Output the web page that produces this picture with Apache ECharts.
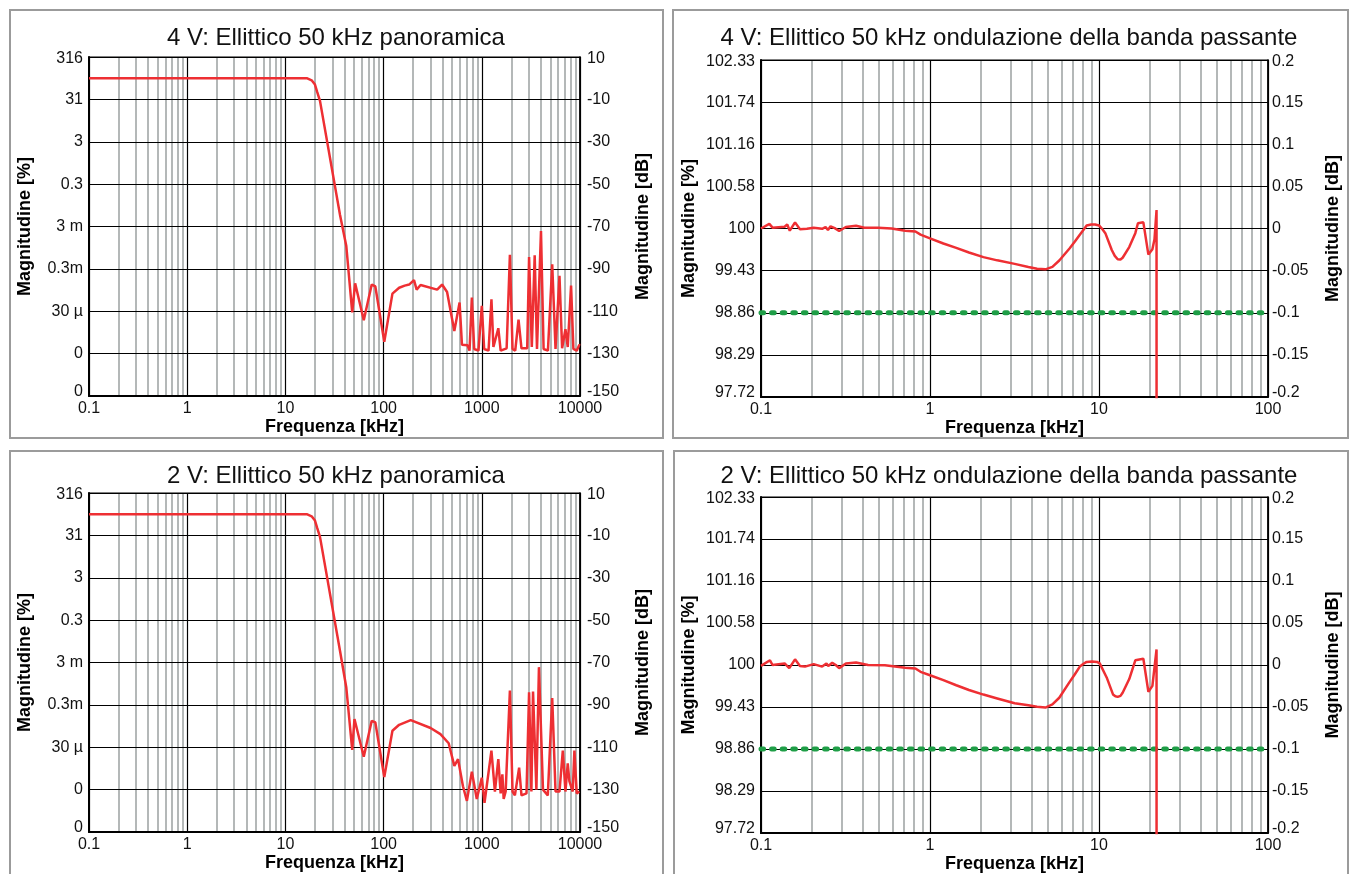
<!DOCTYPE html>
<html>
<head>
<meta charset="utf-8">
<script src="https://cdn.jsdelivr.net/npm/echarts@6/dist/echarts.min.js"></script>
<style>
  html, body { margin: 0; padding: 0; background: #fff; }
  #chart { width: 1352px; height: 874px; }
</style>
</head>
<body>
<div id="chart"></div>
<script>
// ---------------- data ----------------
const panelTitles = [
  '4 V: Ellittico 50 kHz panoramica',
  '4 V: Ellittico 50 kHz ondulazione della banda passante',
  '2 V: Ellittico 50 kHz panoramica',
  '2 V: Ellittico 50 kHz ondulazione della banda passante'
];
const freqAxisName = 'Frequenza [kHz]';
const pctAxisName = 'Magnitudine [%]';
const dbAxisName = 'Magnitudine [dB]';

// decade labels of the frequency axis, 0.1 kHz ... 10000 kHz
const decadeLabels = ['0.1', '1', '10', '100', '1000', '10000'];

// overview panels: dB scale from -150 to +10 in 20 dB steps (bottom to top)
const overviewDbLabels = ['-150', '-130', '-110', '-90', '-70', '-50', '-30', '-10', '10'];
const overviewPctLabels = ['0', '0', '30 µ', '0.3m', '3 m', '0.3', '3', '31', '316'];

// passband ripple panels: -0.2 ... +0.2 dB in 0.05 dB steps (bottom to top)
const rippleDbLabels = ['-0.2', '-0.15', '-0.1', '-0.05', '0', '0.05', '0.1', '0.15', '0.2'];
const ripplePctLabels = ['97.72', '98.29', '98.86', '99.43', '100', '100.58', '101.16', '101.74', '102.33'];

// passband ripple limit [dB]
const rippleLimitDb = -0.1;

// 4 V overview response
const ov4Freq = [0.1, 16.5, 18.5, 20, 21.1, 22.5, 36, 41.7, 47.9, 51.3, 62.8, 75.7, 82.4, 101.6, 123, 144, 164, 182, 204, 217, 238, 351, 394, 443, 525, 594, 628, 716, 750, 792, 837, 925, 1000, 1057, 1171, 1254, 1313, 1473, 1556, 1790, 1933, 2056, 2190, 2366, 2535, 2900, 3030, 3230, 3456, 3648, 4006, 4260, 4714, 5213, 5634, 6180, 6576, 7109, 7503, 8110, 8565, 9260, 9849, 10000];
const ov4Db = [0, 0, -1, -3, -6.6, -10.7, -64.6, -79.2, -110.5, -96.8, -114.2, -97.4, -98.3, -124.4, -101.7, -98.9, -97.9, -97.4, -95.3, -99.8, -97.6, -99.8, -97.4, -100.9, -119.3, -105.9, -125.8, -126.1, -128.6, -103.5, -127.8, -128.6, -107.4, -127.8, -128.6, -104.4, -126.9, -118, -128.6, -127.5, -83.3, -127.8, -128.6, -113.9, -127.5, -127.5, -84.4, -126.9, -83.6, -127.8, -72.1, -127.8, -128.6, -87.8, -127.8, -93.3, -127.5, -118.5, -126.9, -97.9, -127.8, -128.6, -125.8, -126];

// 2 V overview response
const ov2Freq = [0.1, 16.5, 18.5, 20, 21.1, 22.5, 36, 41.7, 47.9, 50.5, 62.8, 75.7, 82.4, 101.6, 123, 144, 189, 196, 301, 379, 460, 525, 573, 643, 705, 792, 889, 1000, 1066, 1253, 1360, 1473, 1556, 1620, 1670, 1750, 1933, 2056, 2173, 2400, 2535, 2851, 3030, 3199, 3324, 3597, 3818, 4197, 4700, 5213, 5634, 6180, 6683, 7110, 7500, 7798, 8432, 8770, 9260, 9849, 10000];
const ov2Db = [0, 0, -1, -3, -6.6, -10.7, -64.6, -81.8, -111.3, -96.7, -114.5, -97.5, -98.3, -124.1, -102.2, -99.4, -97.2, -98, -100.9, -103.8, -108.1, -118.8, -115.6, -128.4, -135.3, -121.5, -134.4, -124.4, -136.2, -111.6, -130.9, -115.6, -131.8, -122.8, -134.4, -130.9, -83.2, -130.9, -132.7, -119.6, -132.7, -131.8, -84, -130.9, -83.7, -130, -72.2, -130, -132.7, -86.8, -130.9, -130.9, -111.6, -130.9, -117.6, -126, -130.9, -111.6, -131.8, -130.9, -131];

// 4 V passband detail
const rp4Freq = [0.1, 0.112, 0.117, 0.138, 0.143, 0.148, 0.159, 0.17, 0.187, 0.205, 0.23, 0.241, 0.249, 0.258, 0.273, 0.29, 0.318, 0.365, 0.409, 0.493, 0.593, 0.713, 0.82, 0.879, 1.0, 1.2, 1.43, 1.7, 2.07, 2.5, 3.17, 3.82, 4.3, 4.82, 5.3, 5.82, 6.69, 7.2, 7.7, 8.1, 8.45, 9.0, 9.49, 10, 10.4, 10.9, 11.9, 12.4, 12.9, 13.4, 13.8, 15.1, 16.4, 17.0, 18.3, 19.6, 20.7, 21.3, 21.9, 22.05];
const rp4Db = [0, 0.0055, 0.001, 0.002, 0.0047, -0.0026, 0.0073, -0.001, -0.0004, 0.001, -0.0004, 0.0018, -0.0018, 0.0026, 0.0004, -0.003, 0.0018, 0.0033, 0.001, 0.001, 0, -0.0026, -0.0036, -0.0073, -0.0117, -0.0178, -0.023, -0.0285, -0.034, -0.0378, -0.042, -0.0456, -0.0478, -0.0485, -0.0456, -0.038, -0.0237, -0.0155, -0.0073, -0.0015, 0.0036, 0.0048, 0.0047, 0.0036, 0.0, -0.0055, -0.0255, -0.0325, -0.0365, -0.0368, -0.0347, -0.022, -0.0055, 0.0062, 0.0073, -0.031, -0.0245, -0.0128, 0.022, -3];

// 2 V passband detail
const rp2Freq = [0.1, 0.113, 0.117, 0.138, 0.141, 0.147, 0.159, 0.17, 0.182, 0.205, 0.23, 0.244, 0.25, 0.264, 0.277, 0.29, 0.318, 0.365, 0.43, 0.541, 0.713, 0.82, 0.879, 1.0, 1.2, 1.43, 1.7, 2.07, 2.5, 3.17, 3.82, 4.3, 4.82, 5.3, 5.82, 6.69, 7.2, 7.7, 8.1, 8.45, 9.1, 9.73, 10.1, 11.1, 12.1, 12.5, 12.9, 13.4, 13.8, 15.1, 16.4, 18.3, 19.6, 20.7, 21.9, 22.05];
const rp2Db = [-0.0011, 0.0056, 0, 0.0019, 0.0037, -0.0037, 0.0067, -0.0011, -0.0019, 0.0011, -0.0019, 0.0019, -0.0011, 0.0026, 0, -0.0037, 0.0019, 0.003, 0, -0.0004, -0.0033, -0.0041, -0.0081, -0.0122, -0.018, -0.0241, -0.0298, -0.0352, -0.0398, -0.0456, -0.048, -0.0498, -0.0507, -0.047, -0.039, -0.0204, -0.011, -0.0019, 0.0015, 0.0037, 0.0042, 0.0037, 0.0019, -0.0148, -0.035, -0.0372, -0.038, -0.0368, -0.033, -0.0167, 0.0056, 0.0074, -0.032, -0.0248, 0.0185, -3];

// ---------------- chart ----------------
const FONT = '"Liberation Sans", Arial, Helvetica, sans-serif';
const RED = '#ee2f33';
const GREEN = '#1f9e47';
const MINOR_GRAY = '#b4b8b8';
const LABEL_COLOR = '#111';

// overview axis runs in "dB below +10 dB" so that every 20 dB step lands on a tick
const OV_TOP_DB = 10;
const OV_MIN = -160, OV_MAX = 0, OV_STEP = 20;
const RP_MIN = -0.2, RP_MAX = 0.2, RP_STEP = 0.05;

function pairs(xs, ys, shift) {
  return xs.map((x, i) => [x, ys[i] - (shift || 0)]);
}
// end labels are nudged inward (top one down, bottom one up)
function tickLabel(labels, min, step) {
  return v => {
    const i = Math.round((v - min) / step);
    const s = labels[i] ?? '';
    if (i === 0) return '{lo|' + s + '}';
    if (i === labels.length - 1) return '{hi|' + s + '}';
    return s;
  };
}
const labelRich = {
  lo: { fontFamily: FONT, fontSize: 16, color: LABEL_COLOR, padding: [0, 0, 9, 0] },
  hi: { fontFamily: FONT, fontSize: 16, color: LABEL_COLOR, padding: [4, 0, 0, 0] }
};
function decadeLabel(v) {
  return decadeLabels[Math.round(Math.log10(v)) + 1] ?? '';
}
// 2..9 x each decade between the given decade exponents
function minorFreqs(e0, e1) {
  const out = [];
  for (let e = e0; e < e1; e++) {
    for (let k = 2; k <= 9; k++) out.push(+(k * Math.pow(10, e)).toPrecision(4));
  }
  return out;
}

const grids = [
  { left: 89, top: 57, width: 491, height: 339 },
  { left: 761, top: 60, width: 507, height: 337 },
  { left: 89, top: 493, width: 491, height: 339 },
  { left: 761, top: 497, width: 507, height: 336 }
];

function xAxisFor(gridIndex, max) {
  return {
    type: 'log', logBase: 10, gridIndex, min: 0.1, max,
    name: freqAxisName, nameLocation: 'middle', nameGap: 20,
    nameTextStyle: { fontFamily: FONT, fontSize: 18, fontWeight: 'bold', color: '#000' },
    axisLine: { onZero: false, lineStyle: { color: '#000', width: 2 } },
    axisTick: { show: false },
    axisLabel: { fontFamily: FONT, fontSize: 16, color: LABEL_COLOR, margin: 5, formatter: decadeLabel },
    splitLine: { show: true, lineStyle: { color: '#000', width: 1.2 } }
  };
}
function yAxisPair(gridIndex, min, max, step, leftLabels, rightLabels, leftGap, rightGap, leftMargin, rightMargin) {
  const common = {
    type: 'value', gridIndex, min, max, interval: step,
    nameLocation: 'middle', nameRotate: 90,
    nameTextStyle: { fontFamily: FONT, fontSize: 18, fontWeight: 'bold', color: '#000' },
    axisTick: { show: false }
  };
  return [
    Object.assign({}, common, {
      position: 'left', name: pctAxisName, nameGap: leftGap,
      axisLine: { show: true, onZero: false, lineStyle: { color: '#000', width: 2 } },
      axisLabel: { fontFamily: FONT, fontSize: 16, color: LABEL_COLOR, margin: leftMargin,
                   formatter: tickLabel(leftLabels, min, step), rich: labelRich },
      splitLine: { show: true, lineStyle: { color: '#000', width: 1.2 } }
    }),
    Object.assign({}, common, {
      position: 'right', name: dbAxisName, nameGap: rightGap,
      axisLine: { show: true, onZero: false, lineStyle: { color: '#000', width: 1.5 } },
      axisLabel: { fontFamily: FONT, fontSize: 16, color: LABEL_COLOR, margin: rightMargin,
                   formatter: tickLabel(rightLabels, min, step), rich: labelRich },
      splitLine: { show: false }
    })
  ];
}

function minorLines(values) {
  return {
    silent: true, symbol: 'none', z: -1,
    label: { show: false },
    lineStyle: { color: MINOR_GRAY, width: 2, type: 'solid' },
    emphasis: { disabled: true },
    data: values.map(v => ({ xAxis: v }))
  };
}

function responseSeries(gridIndex, data, minor) {
  return {
    type: 'line', xAxisIndex: gridIndex, yAxisIndex: gridIndex * 2,
    data, symbol: 'none', showSymbol: false, z: 3, clip: true,
    lineStyle: { color: RED, width: 2.5 },
    markLine: minorLines(minor)
  };
}
function limitSeries(gridIndex) {
  return {
    type: 'line', xAxisIndex: gridIndex, yAxisIndex: gridIndex * 2,
    data: [[0.1, rippleLimitDb], [100, rippleLimitDb]],
    symbol: 'none', z: 2, silent: true,
    lineStyle: { color: GREEN, width: 5, type: [2.6, 8], cap: 'round' }
  };
}

const titleCenters = [[336, 26], [1009, 26], [336, 464], [1009, 464]];

const option = {
  animation: false,
  backgroundColor: '#fff',
  title: panelTitles.map((t, i) => ({
    text: t, left: titleCenters[i][0], top: titleCenters[i][1], textAlign: 'center', padding: 0,
    textStyle: { fontFamily: FONT, fontSize: 24, fontWeight: 'normal', color: '#111' }
  })),
  graphic: [
    { type: 'rect', shape: { x: 10, y: 10, width: 653, height: 428 }, style: { fill: 'none', stroke: '#9b9b9b', lineWidth: 2 }, silent: true },
    { type: 'rect', shape: { x: 673, y: 10, width: 675, height: 428 }, style: { fill: 'none', stroke: '#9b9b9b', lineWidth: 2 }, silent: true },
    { type: 'rect', shape: { x: 10, y: 451, width: 653, height: 440 }, style: { fill: 'none', stroke: '#9b9b9b', lineWidth: 2 }, silent: true },
    { type: 'rect', shape: { x: 674, y: 451, width: 674, height: 440 }, style: { fill: 'none', stroke: '#9b9b9b', lineWidth: 2 }, silent: true }
  ],
  grid: grids.map(g => Object.assign({ show: true, borderColor: '#000', borderWidth: 1.2, containLabel: false }, g)),
  xAxis: [
    xAxisFor(0, 10000), xAxisFor(1, 100), xAxisFor(2, 10000), xAxisFor(3, 100)
  ],
  yAxis: [].concat(
    yAxisPair(0, OV_MIN, OV_MAX, OV_STEP, overviewPctLabels, overviewDbLabels, 55, 54, 6, 7),
    yAxisPair(1, RP_MIN, RP_MAX, RP_STEP, ripplePctLabels, rippleDbLabels, 63, 56, 6, 4),
    yAxisPair(2, OV_MIN, OV_MAX, OV_STEP, overviewPctLabels, overviewDbLabels, 55, 54, 6, 7),
    yAxisPair(3, RP_MIN, RP_MAX, RP_STEP, ripplePctLabels, rippleDbLabels, 63, 56, 6, 4)
  ),
  series: [
    responseSeries(0, pairs(ov4Freq, ov4Db, OV_TOP_DB), minorFreqs(-1, 4)),
    limitSeries(1),
    responseSeries(1, pairs(rp4Freq, rp4Db), minorFreqs(-1, 2)),
    responseSeries(2, pairs(ov2Freq, ov2Db, OV_TOP_DB), minorFreqs(-1, 4)),
    limitSeries(3),
    responseSeries(3, pairs(rp2Freq, rp2Db), minorFreqs(-1, 2))
  ]
};

const chart = echarts.init(document.getElementById('chart'), null, { renderer: 'canvas' });
chart.setOption(option);
</script>
</body>
</html>
